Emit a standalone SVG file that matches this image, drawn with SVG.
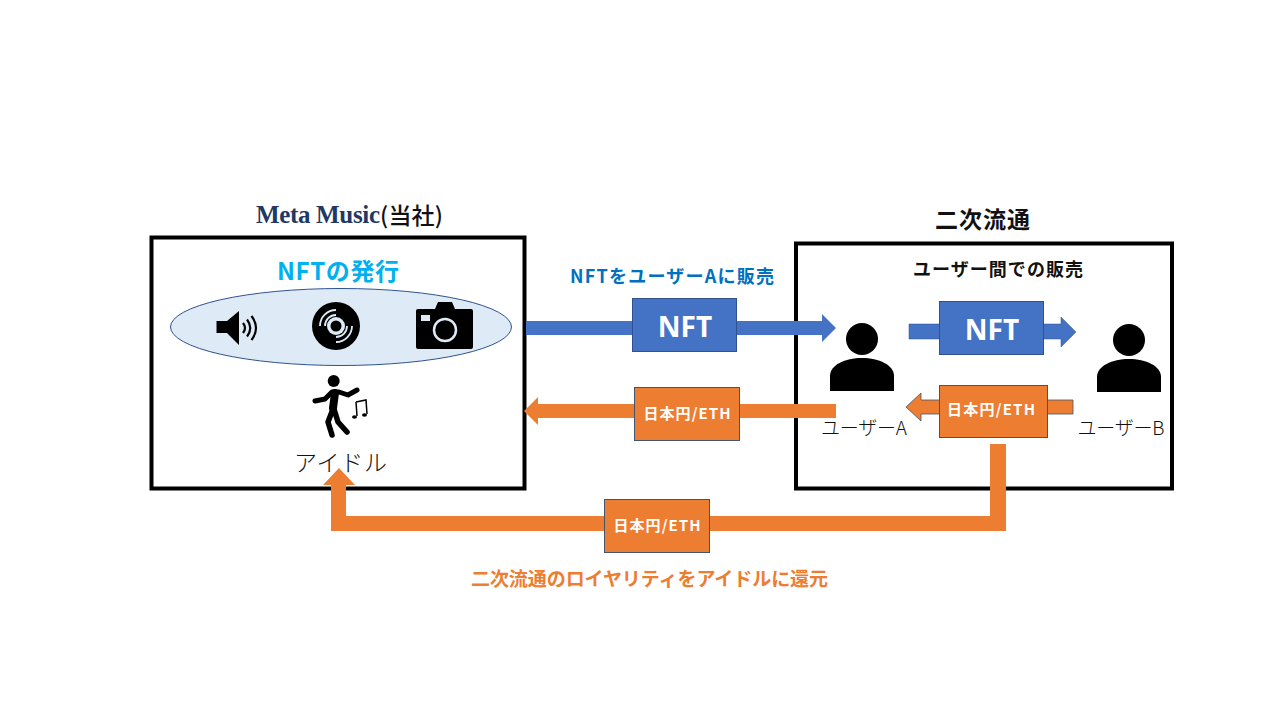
<svg xmlns="http://www.w3.org/2000/svg" width="1280" height="720" viewBox="0 0 1280 720">
<style>
text{font-family:"Noto Sans CJK JP","Noto Sans",sans-serif;text-anchor:middle}
.frame{fill:#fff;stroke:#000;stroke-width:4}
.b{font-weight:700}
.lab{font-size:15px;font-weight:700;fill:#fff}
.nft{font-size:28px;font-weight:700;fill:#fff;font-family:"Noto Sans","Noto Sans CJK JP",sans-serif}
.bluebox{fill:#4472c4;stroke:#2f528f;stroke-width:1}
.orbox{fill:#ed7d31;stroke:#44546a;stroke-width:1}
.blue{fill:#4472c4}
.or{fill:#ed7d31}
.thin{font-size:19px;font-weight:300;fill:#111}
</style>
<rect width="1280" height="720" fill="#fff"/>
<g id="company">
<rect class="frame" x="151.500" y="237.500" width="373" height="251"/>
<text x="318" y="223" font-size="25" class="b" style="font-family:'Liberation Serif',serif" fill="#1f3864" textLength="124">Meta Music</text>
<text x="411.500" y="224" font-size="23" font-weight="500" fill="#111" textLength="63">(当社)</text>
</g>
<g id="secondary">
<rect class="frame" x="796" y="243.500" width="376" height="245"/>
<text x="982.500" y="228" font-size="23" class="b" fill="#111" textLength="95">二次流通</text>
<text x="998" y="276" font-size="18" class="b" fill="#111" textLength="170">ユーザー間での販売</text>
</g>
<g id="issue">
<text x="338" y="280" font-size="24" class="b" fill="#00b0f0" textLength="122">NFTの発行</text>
<ellipse cx="341" cy="327" rx="170.500" ry="38.500" fill="#deebf7" stroke="#2f528f" stroke-width="1"/>
<path d="M216.500 321h10.500L239 311v34L227 333h-10.500z" fill="#000"/>
<path d="M243 323q4 5 0 10M247 319.500q6.500 8.500 0 17M251.500 316q9 12 0 24" fill="none" stroke="#000" stroke-width="2.200"/>
<circle cx="336" cy="326" r="24" fill="#000"/>
<circle cx="336" cy="326" r="9" fill="#deebf7"/>
<circle cx="336" cy="326" r="5.500" fill="#000"/>
<path d="M320 326a16 16 0 0 1 16-16M325 326a11 11 0 0 1 11-11M352 326a16 16 0 0 1-16 16M347 326a11 11 0 0 1-11 11" fill="none" stroke="#deebf7" stroke-width="1.800"/>
<path d="M418 309h17l3-7h14l3 7h16a2 2 0 0 1 2 2v36a2 2 0 0 1-2 2h-53a2 2 0 0 1-2-2v-36a2 2 0 0 1 2-2z" fill="#000"/>
<rect x="421" y="315" width="9" height="6" fill="#deebf7"/>
<circle cx="445" cy="330" r="11" fill="none" stroke="#deebf7" stroke-width="2.500"/>
</g>
<g id="idol">
<circle cx="333.700" cy="381" r="6" fill="#000"/>
<path d="M315 401l10-2 7-7h7l9 3 9-5" fill="none" stroke="#000" stroke-width="5" stroke-linecap="round" stroke-linejoin="round"/>
<path d="M335 393l-2 15" fill="none" stroke="#000" stroke-width="8" stroke-linecap="round"/>
<path d="M333 409l-5 13 4 13M334 409l4 13 9 10" fill="none" stroke="#000" stroke-width="5.500" stroke-linecap="round" stroke-linejoin="round"/>
<path d="M356 402l10-2 1 14M356 402l1 14" fill="none" stroke="#000" stroke-width="1.500"/>
<ellipse cx="354.500" cy="417" rx="2.500" ry="1.800" fill="#000"/>
<ellipse cx="364.500" cy="415" rx="2.500" ry="1.800" fill="#000"/>
<text x="340.500" y="471" class="thin" style="font-size:23px" textLength="93">アイドル</text>
</g>
<g id="user-a">
<circle cx="862" cy="339" r="16" fill="#000"/>
<path d="M830 391v-15c0-11 15-18 32-18s32 7 32 18v15z" fill="#000"/>
<text x="864" y="435" class="thin" textLength="86">ユーザーA</text>
</g>
<g id="user-b">
<circle cx="1129" cy="340" r="16" fill="#000"/>
<path d="M1097 392v-15c0-11 15-18 32-18s32 7 32 18v15z" fill="#000"/>
<text x="1121" y="435" class="thin" textLength="87">ユーザーB</text>
</g>
<g id="connectors">
<path class="blue" d="M526 321h296v-7l14 14-14 14v-7H526z"/>
<path class="or" d="M836 404H538v-7l-14 14 14 14v-7h298z"/>
<path class="or" d="M1006 444v87H331v-46h-8l16-17 16 17h-9v31h644v-72z"/>
<path class="blue" stroke="#2f528f" stroke-width="0.500" d="M909 324h152v-7l15 15-15 15v-8H909z"/>
<path class="or" stroke="#44546a" stroke-width="0.800" d="M1073 400H921v-7l-15 14 15 14v-7h152z"/>
</g>
<g id="nft-main"><rect class="bluebox" x="632.500" y="298.500" width="104" height="53"/><text class="nft" x="685" y="337">NFT</text></g>
<g id="nft-sub"><rect class="bluebox" x="939.500" y="301.500" width="104" height="53"/><text class="nft" x="992" y="340">NFT</text></g>
<g id="yen-a"><rect class="orbox" x="634.500" y="387.500" width="105" height="53"/><text class="lab" x="687" y="419" textLength="87">日本円/ETH</text></g>
<g id="yen-b"><rect class="orbox" x="939.500" y="385.500" width="108" height="52"/><text class="lab" x="991" y="415" textLength="88">日本円/ETH</text></g>
<g id="yen-c"><rect class="orbox" x="604.500" y="499.500" width="105" height="53"/><text class="lab" x="657" y="531" textLength="87">日本円/ETH</text></g>
<g id="labels">
<text x="672" y="283" font-size="18" class="b" fill="#0070c0" textLength="204">NFTをユーザーAに販売</text>
<text x="649.500" y="586" font-size="19" class="b" fill="#ed7d31" textLength="357">二次流通のロイヤリティをアイドルに還元</text>
</g>
</svg>
